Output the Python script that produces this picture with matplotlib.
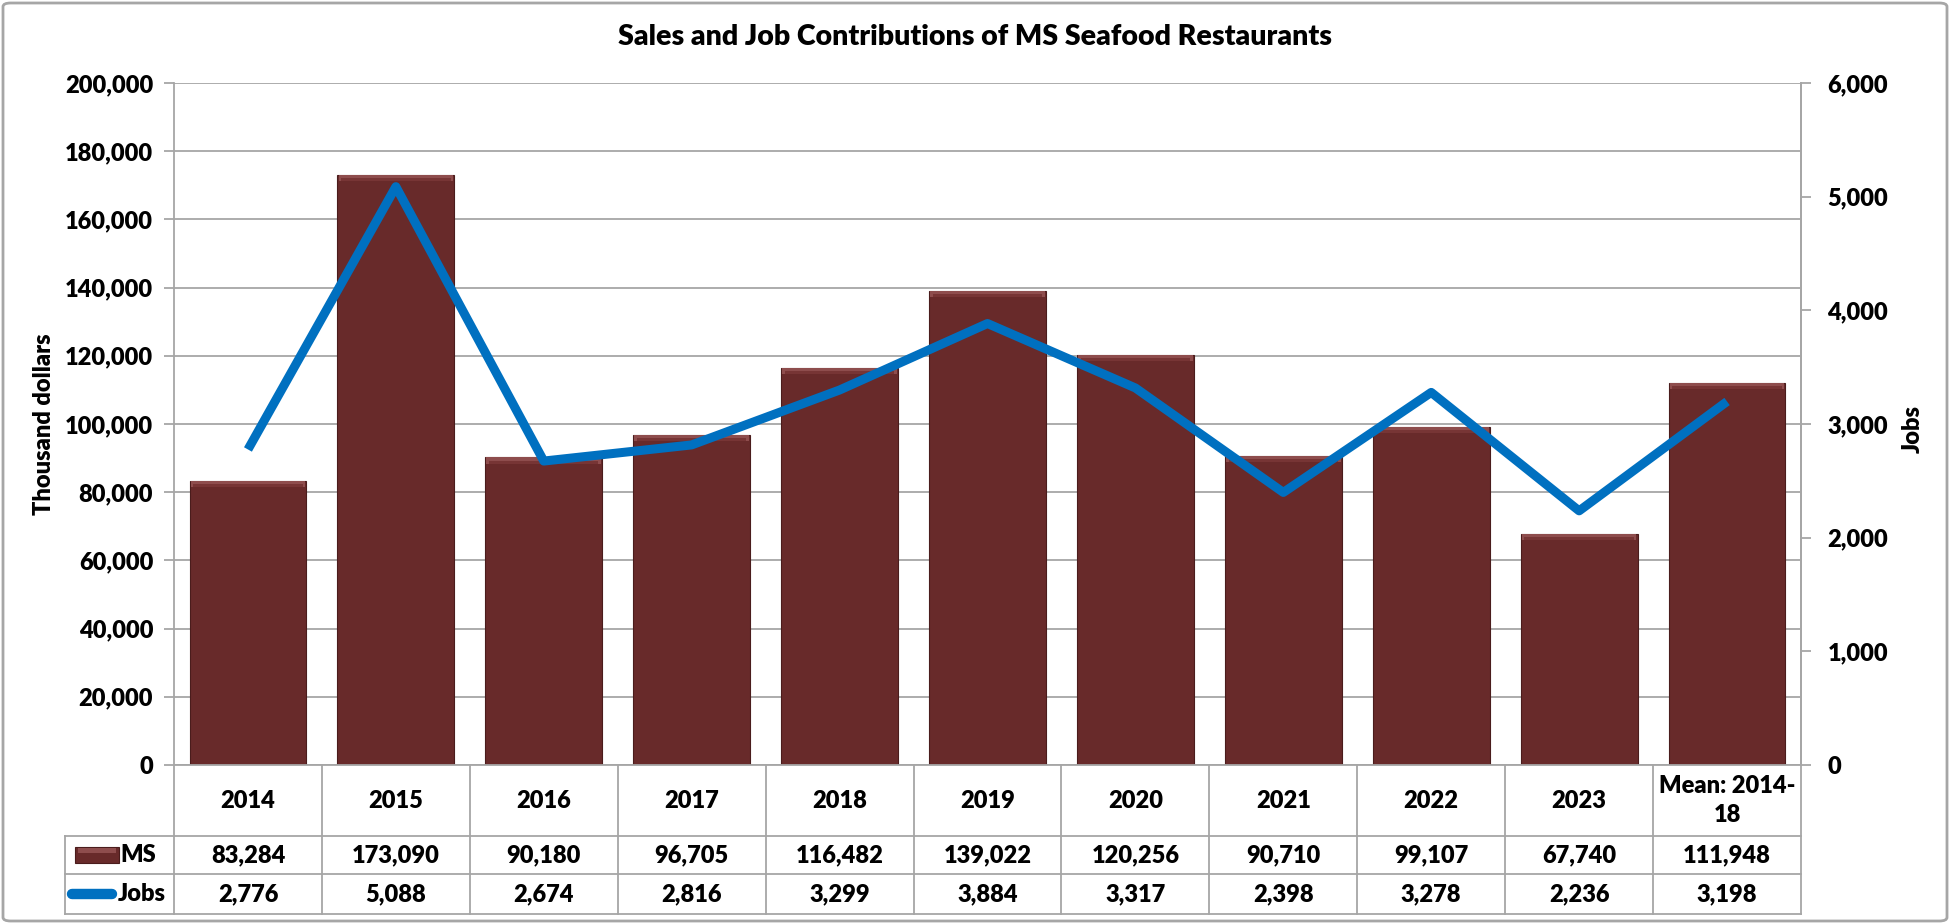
import matplotlib.pyplot as plt
from matplotlib.patches import Rectangle, FancyBboxPatch
from matplotlib.ticker import FuncFormatter, MultipleLocator

# Data
categories = ['2014', '2015', '2016', '2017', '2018', '2019', '2020',
              '2021', '2022', '2023', 'Mean: 2014-\n18']
ms_sales = [83284, 173090, 90180, 96705, 116482, 139022, 120256,
            90710, 99107, 67740, 111948]
jobs = [2776, 5088, 2674, 2816, 3299, 3884, 3317, 2398, 3278, 2236, 3198]

BAR = '#682a2a'
BAR_TOP = '#8e4d4d'
BLUE = '#0070c0'
GRID = '#a6a6a6'
FS = 17
WT = 'heavy'

plt.rcParams['font.family'] = ['Lato', 'DejaVu Sans']
plt.rcParams['font.weight'] = WT

W, H = 1950, 924
fig = plt.figure(figsize=(W / 100, H / 100), dpi=100)

# Plot area (pixel layout of the reference)
left, right, top, bottom = 174, 1801, 83, 765
ax = fig.add_axes([left / W, 1 - bottom / H, (right - left) / W, (bottom - top) / H])
x = list(range(len(categories)))

ax.bar(x, ms_sales, width=0.79, color=BAR, edgecolor='#4a1c1c', linewidth=0.8, zorder=2)
# bevel highlight on the top of each bar
band = 1800
ax.bar(x, [band] * len(x), bottom=[v - band for v in ms_sales], width=0.775,
       color=BAR_TOP, linewidth=0, zorder=3)
ax.bar(x, [band * 0.5] * len(x), bottom=[v - band for v in ms_sales], width=0.74,
       color='#773535', linewidth=0, zorder=3)

ax.set_xlim(-0.5, len(x) - 0.5)
ax.set_ylim(0, 200000)
ax.yaxis.set_major_locator(MultipleLocator(20000))
ax.yaxis.set_major_formatter(FuncFormatter(lambda v, p: f'{v:,.0f}'))
ax.set_xticks([])
ax.grid(axis='y', color=GRID, linewidth=1.3, zorder=0)
ax.set_axisbelow(True)
for s in ax.spines.values():
    s.set_color(GRID)
    s.set_linewidth(1.3)
ax.spines['top'].set_visible(False)
ax.tick_params(axis='y', direction='out', length=7, width=1.3, color=GRID,
               labelsize=FS, pad=8)
for t in ax.get_yticklabels():
    t.set_fontweight(WT)

ax2 = ax.twinx()
ax2.plot(x, jobs, color=BLUE, linewidth=6.5, solid_joinstyle='round',
         solid_capstyle='butt', zorder=4)
ax2.set_ylim(0, 6000)
ax2.yaxis.set_major_locator(MultipleLocator(1000))
ax2.yaxis.set_major_formatter(FuncFormatter(lambda v, p: f'{v:,.0f}'))
for s in ax2.spines.values():
    s.set_visible(False)
ax2.spines['right'].set_visible(True)
ax2.spines['right'].set_color(GRID)
ax2.spines['right'].set_linewidth(1.3)
ax2.tick_params(axis='y', direction='out', length=7, width=1.3, color=GRID,
                labelsize=FS, pad=12)
for t in ax2.get_yticklabels():
    t.set_fontweight(WT)

fig.text(44 / W, 1 - 424 / H, 'Thousand dollars', rotation=90, ha='center',
         va='center', fontsize=FS, fontweight=WT)
fig.text(1913 / W, 1 - 429 / H, 'Jobs', rotation=90, ha='center',
         va='center', fontsize=FS, fontweight=WT)
fig.text(0.5, 1 - 37 / H, 'Sales and Job Contributions of MS Seafood Restaurants',
         ha='center', va='center', fontsize=20.5, fontweight=WT)

# Data table under the plot
tleft, tbottom = 65, 914
col_w = (right - left) / len(x)
lab_w = (left - tleft) / col_w
tab = fig.add_axes([tleft / W, 1 - tbottom / H, (right - tleft) / W, (tbottom - bottom) / H])
tab.set_xlim(-0.5 - lab_w, len(x) - 0.5)
tab.set_ylim(0, tbottom - bottom)
tab.axis('off')
r_jobs, r_ms, r_head = 40, 78, tbottom - bottom

for k in range(len(x) + 1):
    tab.plot([k - 0.5, k - 0.5], [0, r_head], color=GRID, lw=1.3, clip_on=False)
tab.plot([-0.5 - lab_w] * 2, [0, r_ms], color=GRID, lw=1.3, clip_on=False)
for yy in (0, r_jobs, r_ms):
    tab.plot([-0.5 - lab_w, len(x) - 0.5], [yy, yy], color=GRID, lw=1.3, clip_on=False)

for i, cat in enumerate(categories):
    tab.text(i, (r_ms + r_head) / 2, cat, ha='center', va='center', fontsize=FS,
             fontweight=WT, linespacing=1.4)
    tab.text(i, (r_jobs + r_ms) / 2, f'{ms_sales[i]:,}', ha='center', va='center',
             fontsize=FS, fontweight=WT)
    tab.text(i, r_jobs / 2, f'{jobs[i]:,}', ha='center', va='center',
             fontsize=FS, fontweight=WT)

# legend keys in the label column
lx = -0.5 - lab_w
tab.add_patch(Rectangle((lx + 0.068, r_jobs + 11), 0.30, 16, facecolor=BAR,
                        edgecolor='#4a1c1c', lw=0.8))
tab.add_patch(Rectangle((lx + 0.09, r_jobs + 21), 0.256, 5, facecolor=BAR_TOP, lw=0))
tab.text(lx + 0.375, (r_jobs + r_ms) / 2, 'MS', ha='left', va='center',
         fontsize=FS, fontweight=WT)
tab.plot([lx + 0.045, lx + 0.32], [r_jobs / 2, r_jobs / 2], color=BLUE, lw=7.5,
         solid_capstyle='round')
tab.text(lx + 0.36, r_jobs / 2, 'Jobs', ha='left', va='center',
         fontsize=FS, fontweight=WT)

# outer chart border
fig.patches.append(FancyBboxPatch((3 / W, 3 / H), 1 - 6 / W, 1 - 6 / H,
                                  boxstyle='round,pad=0,rounding_size=0.004',
                                  transform=fig.transFigure, fill=False,
                                  edgecolor=GRID, linewidth=2))

fig.savefig('out.png', dpi=100)
